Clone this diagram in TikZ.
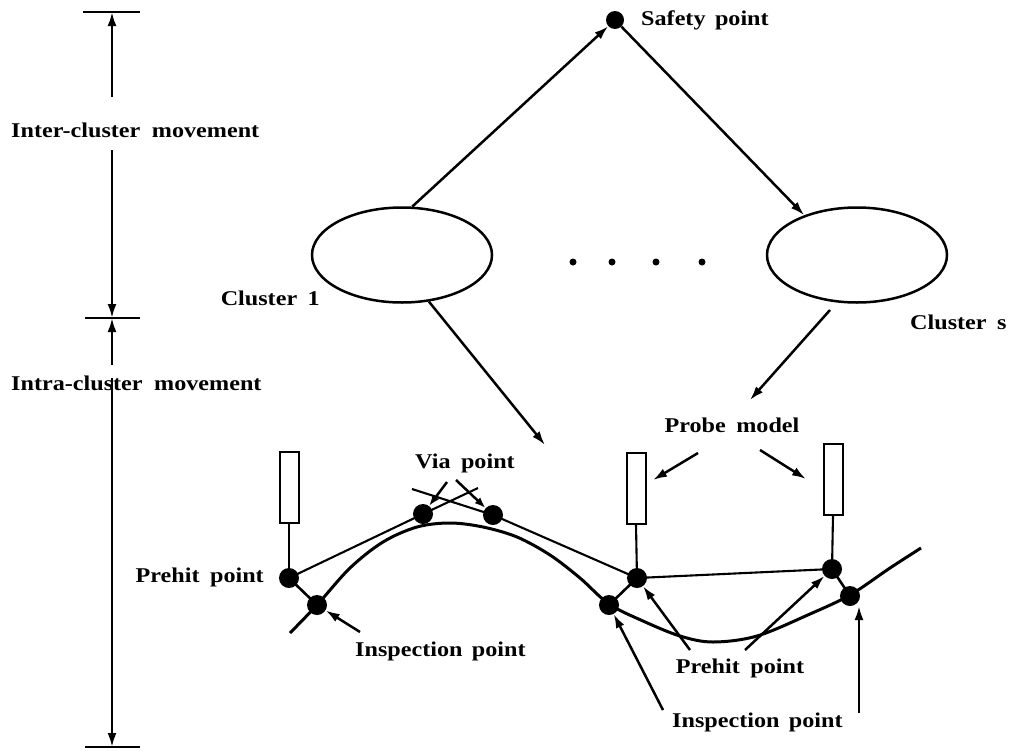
\documentclass[tikz,border=0pt]{standalone}
\usepackage{fontspec}
\setmainfont{Liberation Serif}[FakeStretch=1.15]
\usetikzlibrary{arrows.meta,shapes.geometric}
\begin{document}
\begin{tikzpicture}[x=1pt,y=-1pt,
  lbl/.style={font=\fontsize{21}{25}\selectfont\bfseries, inner sep=0pt},
  ln/.style={line width=2.6pt},
  thinln/.style={line width=2.1pt},
  arr/.style={line width=2.5pt,-{Latex[length=14pt,width=9pt]}},
  dotn/.style={circle,fill=black,inner sep=0pt,minimum size=20pt},
  sdot/.style={circle,fill=black,inner sep=0pt,minimum size=7pt},
  cl/.style={ellipse,draw,line width=2.5pt,minimum width=180pt,minimum height=95pt,inner sep=0pt},
  probe/.style={rectangle,draw,line width=2pt,minimum width=19pt,minimum height=71pt,inner sep=0pt}]
\useasboundingbox (0,0) rectangle (1015,750);

% ---- left dimension scale
\coordinate (b1l) at (83,12);  \coordinate (b1r) at (140,12);
\coordinate (b2l) at (85,318); \coordinate (b2r) at (140,318);
\coordinate (b3l) at (85,747); \coordinate (b3r) at (140,747);
\coordinate (t1) at (112,12); \coordinate (t2) at (112,318); \coordinate (t3) at (112,747);
\coordinate (s1) at (112,97); \coordinate (s2) at (112,150);
\coordinate (s3) at (112,365); \coordinate (s4) at (112,378);
\draw[ln] (b1l) -- (b1r);
\draw[ln] (b2l) -- (b2r);
\draw[ln] (b3l) -- (b3r);
\draw[arr] (s1) -- (t1);
\draw[arr] (s2) -- (t2);
\draw[arr] (s3) -- (t2);
\draw[arr] (s4) -- (t3);
\node[lbl,anchor=west] (inter) at (11,130) {Inter-cluster\hspace{0.55em}movement};
\node[lbl,anchor=west] (intra) at (11,383) {Intra-cluster\hspace{0.55em}movement};

% ---- clusters and safety point
\node[dotn,minimum size=18pt] (sp) at (615,20) {};
\node[lbl,anchor=west] (splbl) at (641,20) {Safety\hspace{0.45em}point};
\node[cl] (c1) at (402,255) {};
\node[cl] (cs) at (857,255) {};
\node[lbl,anchor=east] (c1lbl) at (320,298) {Cluster\hspace{0.5em}1};
\node[lbl,anchor=west] (cslbl) at (910,322) {Cluster\hspace{0.5em}s};
\node[sdot] (d1) at (573,262) {};
\node[sdot] (d2) at (612,262) {};
\node[sdot] (d3) at (656,262) {};
\node[sdot] (d4) at (702,262) {};
\draw[arr] (c1.78) -- (sp);
\draw[arr] (sp) -- (cs.143);
\coordinate (c1end) at (545,445);
\coordinate (csstart) at (830,310);
\coordinate (csend) at (750,400);
\draw[arr] (c1.-60) -- (c1end);
\draw[arr] (csstart) -- (csend);

% ---- probes and points
\node[probe] (p1) at (289,487.5) {};
\node[probe] (p2) at (636,488) {};
\node[probe] (p3) at (833,479) {};
\node[dotn] (h1) at (289,578) {};
\node[dotn] (i1) at (317,605) {};
\node[dotn] (h2) at (637,578) {};
\node[dotn] (i2) at (609,605) {};
\node[dotn] (h3) at (832,569) {};
\node[dotn] (i3) at (850,596) {};
\node[dotn] (v1) at (423,514) {};
\node[dotn] (v2) at (493,515) {};

% main surface curve
\draw[line width=3pt] plot[smooth,tension=0.55] coordinates {
 (290,633) (317,605) (350,568) (383,542) (417,527) (450,523) (483,527)
 (517,537) (550,555) (580,578) (609,604) (643,621) (680,636) (713,642)
 (757,636) (810,614) (850,595) (890,568) (921,548)};

\draw[thinln] (p1.south) -- (h1.center);
\draw[thinln] (p2.south) -- (h2.center);
\draw[thinln] (p3.south) -- (h3.center);
\draw[ln] (h1.center) -- (i1.center);
\draw[ln] (h2.center) -- (i2.center);
\draw[ln] (h3.center) -- (i3.center);
\coordinate (ea) at (478,488);
\coordinate (eb) at (412,489);
\draw[thinln] (h1.center) -- (v1.center) -- (ea);
\draw[thinln] (h2.center) -- (v2.center) -- (eb);
\draw[thinln] (h2.center) -- (h3.center);

% labels and pointer arrows
\node[lbl] (vialbl) at (465,463) {Via\hspace{0.5em}point};
\coordinate (va1) at (447,482); \coordinate (va2) at (456,480);
\draw[arr,-{Latex[length=11pt,width=8pt]}] (va1) -- (v1);
\draw[arr,-{Latex[length=11pt,width=8pt]}] (va2) -- (v2);

\node[lbl] (probelbl) at (732,425) {Probe\hspace{0.5em}model};
\coordinate (pa1) at (698,453); \coordinate (pa1e) at (653,480);
\coordinate (pa2) at (760,450); \coordinate (pa2e) at (806,479);
\draw[arr] (pa1) -- (pa1e);
\draw[arr] (pa2) -- (pa2e);

\node[lbl,anchor=east] (h1lbl) at (264,577) {Prehit\hspace{0.5em}point};
\node[lbl,anchor=west] (i1lbl) at (355,651) {Inspection\hspace{0.45em}point};
\coordinate (ia1) at (360,632);
\draw[arr] (ia1) -- (i1);

\node[lbl] (h2lbl) at (740,668) {Prehit\hspace{0.5em}point};
\coordinate (ha2) at (690,650); \coordinate (ha3) at (745,650);
\draw[arr] (ha2) -- (h2);
\draw[arr] (ha3) -- (h3);

\node[lbl,anchor=west] (i2lbl) at (672,722) {Inspection\hspace{0.45em}point};
\coordinate (ia2) at (663,710); \coordinate (ia3) at (859,713); \coordinate (ia3e) at (859,606);
\draw[arr] (ia2) -- (i2);
\draw[arr] (ia3) -- (ia3e);
\end{tikzpicture}
\end{document}
